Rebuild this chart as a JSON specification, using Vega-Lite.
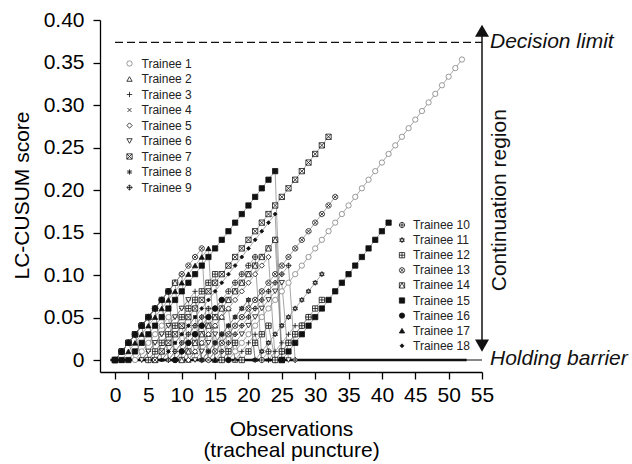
{
"$schema": "https://vega.github.io/schema/vega-lite/v6.json",
"width": 382, "height": 352,
"autosize": {"type": "none"},
"padding": {"left": 100, "top": 20, "right": 150, "bottom": 92},
"background": "white",
"config": {
 "view": {"stroke": null},
 "font": "Liberation Sans",
 "axis": {"domainColor": "#000", "domainWidth": 1.3, "tickColor": "#000", "tickWidth": 1.3, "tickSize": 7, "labelFont": "Liberation Sans", "labelFontSize": 21, "labelColor": "#000", "titleFont": "Liberation Sans", "titleFontSize": 21, "titleFontWeight": "normal", "titleColor": "#000", "grid": false, "labelOverlap": false, "labelFlush": false},
 "axisX": {"values": [0,5,10,15,20,25,30,35,40,45,50,55], "labelPadding": 5, "titleX": 191, "titleY": 63, "titleBaseline": "alphabetic", "titleLineHeight": 21, "titleAlign": "center", "titleAnchor": null},
 "axisY": {"values": [0,0.05,0.1,0.15,0.2,0.25,0.3,0.35,0.4], "labelPadding": 9, "titleX": -78, "titleY": 175, "titleAngle": -90, "titleAlign": "center", "titleBaseline": "middle", "titleAnchor": null}
},
"datasets": {"cusum": [
{"s":1,"o":0,"v":0},{"s":1,"o":1,"v":0.0101},{"s":1,"o":2,"v":0.0202},{"s":1,"o":3,"v":0},{"s":1,"o":4,"v":0.0101},{"s":1,"o":5,"v":0.0202},{"s":1,"o":6,"v":0.0303},{"s":1,"o":7,"v":0.0404},{"s":1,"o":8,"v":0.0505},{"s":1,"o":9,"v":0},{"s":1,"o":10,"v":0.0101},{"s":1,"o":11,"v":0.0202},{"s":1,"o":12,"v":0.0303},{"s":1,"o":13,"v":0},{"s":1,"o":14,"v":0.0101},{"s":1,"o":15,"v":0.0202},{"s":1,"o":16,"v":0.0303},{"s":1,"o":17,"v":0},{"s":1,"o":18,"v":0.0101},{"s":1,"o":19,"v":0.0202},{"s":1,"o":20,"v":0.0303},{"s":1,"o":21,"v":0.0404},{"s":1,"o":22,"v":0.0505},{"s":1,"o":23,"v":0.0606},{"s":1,"o":24,"v":0.0707},{"s":1,"o":25,"v":0.0808},{"s":1,"o":26,"v":0.0909},{"s":1,"o":27,"v":0.101},{"s":1,"o":28,"v":0.1111},{"s":1,"o":29,"v":0.1212},{"s":1,"o":30,"v":0.1313},{"s":1,"o":31,"v":0.1414},{"s":1,"o":32,"v":0.1515},{"s":1,"o":33,"v":0.1616},{"s":1,"o":34,"v":0.1717},{"s":1,"o":35,"v":0.1818},{"s":1,"o":36,"v":0.1919},{"s":1,"o":37,"v":0.202},{"s":1,"o":38,"v":0.2121},{"s":1,"o":39,"v":0.2222},{"s":1,"o":40,"v":0.2323},{"s":1,"o":41,"v":0.2424},{"s":1,"o":42,"v":0.2525},{"s":1,"o":43,"v":0.2626},{"s":1,"o":44,"v":0.2727},{"s":1,"o":45,"v":0.2828},{"s":1,"o":46,"v":0.2929},{"s":1,"o":47,"v":0.303},{"s":1,"o":48,"v":0.3131},{"s":1,"o":49,"v":0.3232},{"s":1,"o":50,"v":0.3333},{"s":1,"o":51,"v":0.3434},{"s":1,"o":52,"v":0.3535},
{"s":2,"o":0,"v":0},{"s":2,"o":1,"v":0.0101},{"s":2,"o":2,"v":0.0202},{"s":2,"o":3,"v":0.0303},{"s":2,"o":4,"v":0.0404},{"s":2,"o":5,"v":0.0505},{"s":2,"o":6,"v":0},{"s":2,"o":7,"v":0.0101},{"s":2,"o":8,"v":0.0202},{"s":2,"o":9,"v":0.0303},{"s":2,"o":10,"v":0.0404},{"s":2,"o":11,"v":0},{"s":2,"o":12,"v":0.0101},{"s":2,"o":13,"v":0.0202},{"s":2,"o":14,"v":0.0303},{"s":2,"o":15,"v":0.0404},{"s":2,"o":16,"v":0.0505},{"s":2,"o":17,"v":0.0606},{"s":2,"o":18,"v":0},
{"s":3,"o":0,"v":0},{"s":3,"o":1,"v":0.0101},{"s":3,"o":2,"v":0.0202},{"s":3,"o":3,"v":0.0303},{"s":3,"o":4,"v":0},{"s":3,"o":5,"v":0.0101},{"s":3,"o":6,"v":0.0202},{"s":3,"o":7,"v":0.0303},{"s":3,"o":8,"v":0.0404},{"s":3,"o":9,"v":0.0505},{"s":3,"o":10,"v":0.0606},{"s":3,"o":11,"v":0.0707},{"s":3,"o":12,"v":0.0808},{"s":3,"o":13,"v":0},{"s":3,"o":14,"v":0.0101},{"s":3,"o":15,"v":0.0202},{"s":3,"o":16,"v":0.0303},{"s":3,"o":17,"v":0.0404},{"s":3,"o":18,"v":0},{"s":3,"o":19,"v":0.0101},{"s":3,"o":20,"v":0.0202},{"s":3,"o":21,"v":0.0303},{"s":3,"o":22,"v":0},{"s":3,"o":23,"v":0},{"s":3,"o":24,"v":0.0101},{"s":3,"o":25,"v":0.0202},{"s":3,"o":26,"v":0.0303},{"s":3,"o":27,"v":0.0404},
{"s":4,"o":0,"v":0},{"s":4,"o":1,"v":0.0101},{"s":4,"o":2,"v":0.0202},{"s":4,"o":3,"v":0.0303},{"s":4,"o":4,"v":0.0404},{"s":4,"o":5,"v":0.0505},{"s":4,"o":6,"v":0.0606},{"s":4,"o":7,"v":0},{"s":4,"o":8,"v":0.0101},{"s":4,"o":9,"v":0.0202},{"s":4,"o":10,"v":0.0303},{"s":4,"o":11,"v":0.0404},{"s":4,"o":12,"v":0.0505},{"s":4,"o":13,"v":0},{"s":4,"o":14,"v":0.0101},{"s":4,"o":15,"v":0.0202},{"s":4,"o":16,"v":0.0303},{"s":4,"o":17,"v":0.0404},{"s":4,"o":18,"v":0.0505},{"s":4,"o":19,"v":0.0606},{"s":4,"o":20,"v":0.0707},{"s":4,"o":21,"v":0},
{"s":5,"o":0,"v":0},{"s":5,"o":1,"v":0.0101},{"s":5,"o":2,"v":0.0202},{"s":5,"o":3,"v":0.0303},{"s":5,"o":4,"v":0.0404},{"s":5,"o":5,"v":0.0505},{"s":5,"o":6,"v":0.0606},{"s":5,"o":7,"v":0.0707},{"s":5,"o":8,"v":0.0808},{"s":5,"o":9,"v":0.0909},{"s":5,"o":10,"v":0.101},{"s":5,"o":11,"v":0},{"s":5,"o":12,"v":0.0101},{"s":5,"o":13,"v":0.0202},{"s":5,"o":14,"v":0.0303},{"s":5,"o":15,"v":0.0404},{"s":5,"o":16,"v":0.0505},{"s":5,"o":17,"v":0.0606},{"s":5,"o":18,"v":0.0707},{"s":5,"o":19,"v":0.0808},{"s":5,"o":20,"v":0.0909},{"s":5,"o":21,"v":0.101},{"s":5,"o":22,"v":0.1111},{"s":5,"o":23,"v":0.1212},{"s":5,"o":24,"v":0},
{"s":6,"o":0,"v":0},{"s":6,"o":1,"v":0.0101},{"s":6,"o":2,"v":0.0202},{"s":6,"o":3,"v":0.0303},{"s":6,"o":4,"v":0},{"s":6,"o":5,"v":0.0101},{"s":6,"o":6,"v":0.0202},{"s":6,"o":7,"v":0.0303},{"s":6,"o":8,"v":0.0404},{"s":6,"o":9,"v":0.0505},{"s":6,"o":10,"v":0.0606},{"s":6,"o":11,"v":0.0707},{"s":6,"o":12,"v":0},{"s":6,"o":13,"v":0.0101},{"s":6,"o":14,"v":0.0202},{"s":6,"o":15,"v":0.0303},{"s":6,"o":16,"v":0},{"s":6,"o":17,"v":0.0101},{"s":6,"o":18,"v":0.0202},{"s":6,"o":19,"v":0.0303},{"s":6,"o":20,"v":0.0404},{"s":6,"o":21,"v":0.0505},{"s":6,"o":22,"v":0.0606},{"s":6,"o":23,"v":0.0707},{"s":6,"o":24,"v":0.0808},{"s":6,"o":25,"v":0.0909},{"s":6,"o":26,"v":0},
{"s":7,"o":0,"v":0},{"s":7,"o":1,"v":0.0101},{"s":7,"o":2,"v":0.0202},{"s":7,"o":3,"v":0.0303},{"s":7,"o":4,"v":0.0404},{"s":7,"o":5,"v":0.0505},{"s":7,"o":6,"v":0},{"s":7,"o":7,"v":0.0101},{"s":7,"o":8,"v":0.0202},{"s":7,"o":9,"v":0.0303},{"s":7,"o":10,"v":0.0404},{"s":7,"o":11,"v":0.0505},{"s":7,"o":12,"v":0.0606},{"s":7,"o":13,"v":0.0707},{"s":7,"o":14,"v":0.0808},{"s":7,"o":15,"v":0.0909},{"s":7,"o":16,"v":0.101},{"s":7,"o":17,"v":0.1111},{"s":7,"o":18,"v":0.1212},{"s":7,"o":19,"v":0.1313},{"s":7,"o":20,"v":0.1414},{"s":7,"o":21,"v":0.1515},{"s":7,"o":22,"v":0.1616},{"s":7,"o":23,"v":0.1717},{"s":7,"o":24,"v":0.1818},{"s":7,"o":25,"v":0.1919},{"s":7,"o":26,"v":0.202},{"s":7,"o":27,"v":0.2121},{"s":7,"o":28,"v":0.2222},{"s":7,"o":29,"v":0.2323},{"s":7,"o":30,"v":0.2424},{"s":7,"o":31,"v":0.2525},{"s":7,"o":32,"v":0.2626},
{"s":8,"o":0,"v":0},{"s":8,"o":1,"v":0.0101},{"s":8,"o":2,"v":0.0202},{"s":8,"o":3,"v":0.0303},{"s":8,"o":4,"v":0.0404},{"s":8,"o":5,"v":0.0505},{"s":8,"o":6,"v":0.0606},{"s":8,"o":7,"v":0.0707},{"s":8,"o":8,"v":0},{"s":8,"o":9,"v":0.0101},{"s":8,"o":10,"v":0.0202},{"s":8,"o":11,"v":0.0303},{"s":8,"o":12,"v":0.0404},{"s":8,"o":13,"v":0.0505},{"s":8,"o":14,"v":0},{"s":8,"o":15,"v":0.0101},{"s":8,"o":16,"v":0.0202},{"s":8,"o":17,"v":0.0303},{"s":8,"o":18,"v":0.0404},{"s":8,"o":19,"v":0.0505},{"s":8,"o":20,"v":0.0606},{"s":8,"o":21,"v":0.0707},{"s":8,"o":22,"v":0.0808},{"s":8,"o":23,"v":0},
{"s":9,"o":0,"v":0},{"s":9,"o":1,"v":0.0101},{"s":9,"o":2,"v":0.0202},{"s":9,"o":3,"v":0.0303},{"s":9,"o":4,"v":0.0404},{"s":9,"o":5,"v":0.0505},{"s":9,"o":6,"v":0.0606},{"s":9,"o":7,"v":0.0707},{"s":9,"o":8,"v":0},{"s":9,"o":9,"v":0.0101},{"s":9,"o":10,"v":0.0202},{"s":9,"o":11,"v":0.0303},{"s":9,"o":12,"v":0.0404},{"s":9,"o":13,"v":0.0505},{"s":9,"o":14,"v":0.0606},{"s":9,"o":15,"v":0},{"s":9,"o":16,"v":0.0101},{"s":9,"o":17,"v":0.0202},{"s":9,"o":18,"v":0.0303},{"s":9,"o":19,"v":0.0404},{"s":9,"o":20,"v":0.0505},{"s":9,"o":21,"v":0.0606},{"s":9,"o":22,"v":0.0707},{"s":9,"o":23,"v":0.0808},{"s":9,"o":24,"v":0.0909},{"s":9,"o":25,"v":0.101},{"s":9,"o":26,"v":0.1111},{"s":9,"o":27,"v":0},
{"s":10,"o":0,"v":0},{"s":10,"o":1,"v":0.0101},{"s":10,"o":2,"v":0.0202},{"s":10,"o":3,"v":0.0303},{"s":10,"o":4,"v":0.0404},{"s":10,"o":5,"v":0.0505},{"s":10,"o":6,"v":0.0606},{"s":10,"o":7,"v":0.0707},{"s":10,"o":8,"v":0.0808},{"s":10,"o":9,"v":0},{"s":10,"o":10,"v":0.0101},{"s":10,"o":11,"v":0.0202},{"s":10,"o":12,"v":0.0303},{"s":10,"o":13,"v":0.0404},{"s":10,"o":14,"v":0.0505},{"s":10,"o":15,"v":0.0606},{"s":10,"o":16,"v":0.0707},{"s":10,"o":17,"v":0.0808},{"s":10,"o":18,"v":0.0909},{"s":10,"o":19,"v":0.101},{"s":10,"o":20,"v":0.1111},{"s":10,"o":21,"v":0.1212},{"s":10,"o":22,"v":0},{"s":10,"o":23,"v":0.0101},{"s":10,"o":24,"v":0},{"s":10,"o":25,"v":0.0101},{"s":10,"o":26,"v":0.0202},{"s":10,"o":27,"v":0.0303},{"s":10,"o":28,"v":0.0404},{"s":10,"o":29,"v":0.0505},
{"s":11,"o":0,"v":0},{"s":11,"o":1,"v":0.0101},{"s":11,"o":2,"v":0.0202},{"s":11,"o":3,"v":0.0303},{"s":11,"o":4,"v":0.0404},{"s":11,"o":5,"v":0},{"s":11,"o":6,"v":0.0101},{"s":11,"o":7,"v":0.0202},{"s":11,"o":8,"v":0.0303},{"s":11,"o":9,"v":0.0404},{"s":11,"o":10,"v":0.0505},{"s":11,"o":11,"v":0.0606},{"s":11,"o":12,"v":0.0707},{"s":11,"o":13,"v":0},{"s":11,"o":14,"v":0.0101},{"s":11,"o":15,"v":0.0202},{"s":11,"o":16,"v":0.0303},{"s":11,"o":17,"v":0.0404},{"s":11,"o":18,"v":0.0505},{"s":11,"o":19,"v":0.0606},{"s":11,"o":20,"v":0.0707},{"s":11,"o":21,"v":0},{"s":11,"o":22,"v":0.0101},{"s":11,"o":23,"v":0.0202},{"s":11,"o":24,"v":0.0303},{"s":11,"o":25,"v":0.0404},{"s":11,"o":26,"v":0.0505},{"s":11,"o":27,"v":0.0606},{"s":11,"o":28,"v":0.0707},{"s":11,"o":29,"v":0.0808},{"s":11,"o":30,"v":0.0909},{"s":11,"o":31,"v":0.101},
{"s":12,"o":0,"v":0},{"s":12,"o":1,"v":0.0101},{"s":12,"o":2,"v":0.0202},{"s":12,"o":3,"v":0.0303},{"s":12,"o":4,"v":0.0404},{"s":12,"o":5,"v":0},{"s":12,"o":6,"v":0.0101},{"s":12,"o":7,"v":0.0202},{"s":12,"o":8,"v":0.0303},{"s":12,"o":9,"v":0.0404},{"s":12,"o":10,"v":0.0505},{"s":12,"o":11,"v":0.0606},{"s":12,"o":12,"v":0.0707},{"s":12,"o":13,"v":0.0808},{"s":12,"o":14,"v":0.0909},{"s":12,"o":15,"v":0.101},{"s":12,"o":16,"v":0},{"s":12,"o":17,"v":0.0101},{"s":12,"o":18,"v":0.0202},{"s":12,"o":19,"v":0},{"s":12,"o":20,"v":0.0101},{"s":12,"o":21,"v":0.0202},{"s":12,"o":22,"v":0.0303},{"s":12,"o":23,"v":0.0404},{"s":12,"o":24,"v":0},{"s":12,"o":25,"v":0.0101},{"s":12,"o":26,"v":0.0202},{"s":12,"o":27,"v":0.0303},{"s":12,"o":28,"v":0.0404},{"s":12,"o":29,"v":0.0505},{"s":12,"o":30,"v":0.0606},{"s":12,"o":31,"v":0.0707},
{"s":13,"o":0,"v":0},{"s":13,"o":1,"v":0.0101},{"s":13,"o":2,"v":0.0202},{"s":13,"o":3,"v":0.0303},{"s":13,"o":4,"v":0.0404},{"s":13,"o":5,"v":0.0505},{"s":13,"o":6,"v":0.0606},{"s":13,"o":7,"v":0.0707},{"s":13,"o":8,"v":0.0808},{"s":13,"o":9,"v":0.0909},{"s":13,"o":10,"v":0.101},{"s":13,"o":11,"v":0.1111},{"s":13,"o":12,"v":0.1212},{"s":13,"o":13,"v":0.1313},{"s":13,"o":14,"v":0},{"s":13,"o":15,"v":0.0101},{"s":13,"o":16,"v":0.0202},{"s":13,"o":17,"v":0.0303},{"s":13,"o":18,"v":0.0404},{"s":13,"o":19,"v":0.0505},{"s":13,"o":20,"v":0.0606},{"s":13,"o":21,"v":0.0707},{"s":13,"o":22,"v":0.0808},{"s":13,"o":23,"v":0.0909},{"s":13,"o":24,"v":0.101},{"s":13,"o":25,"v":0.1111},{"s":13,"o":26,"v":0.1212},{"s":13,"o":27,"v":0.1313},{"s":13,"o":28,"v":0.1414},{"s":13,"o":29,"v":0.1515},{"s":13,"o":30,"v":0.1616},{"s":13,"o":31,"v":0.1717},{"s":13,"o":32,"v":0.1818},{"s":13,"o":33,"v":0.1919},
{"s":14,"o":0,"v":0},{"s":14,"o":1,"v":0.0101},{"s":14,"o":2,"v":0.0202},{"s":14,"o":3,"v":0.0303},{"s":14,"o":4,"v":0.0404},{"s":14,"o":5,"v":0.0505},{"s":14,"o":6,"v":0.0606},{"s":14,"o":7,"v":0.0707},{"s":14,"o":8,"v":0.0808},{"s":14,"o":9,"v":0.0909},{"s":14,"o":10,"v":0},{"s":14,"o":11,"v":0.0101},{"s":14,"o":12,"v":0.0202},{"s":14,"o":13,"v":0.0303},{"s":14,"o":14,"v":0.0404},{"s":14,"o":15,"v":0.0505},{"s":14,"o":16,"v":0.0606},{"s":14,"o":17,"v":0.0707},{"s":14,"o":18,"v":0.0808},{"s":14,"o":19,"v":0.0909},{"s":14,"o":20,"v":0.101},{"s":14,"o":21,"v":0.1111},{"s":14,"o":22,"v":0.1212},{"s":14,"o":23,"v":0.1313},{"s":14,"o":24,"v":0.1414},{"s":14,"o":25,"v":0},
{"s":15,"o":0,"v":0},{"s":15,"o":1,"v":0},{"s":15,"o":2,"v":0},{"s":15,"o":3,"v":0.0101},{"s":15,"o":4,"v":0.0202},{"s":15,"o":5,"v":0.0303},{"s":15,"o":6,"v":0.0404},{"s":15,"o":7,"v":0.0505},{"s":15,"o":8,"v":0.0606},{"s":15,"o":9,"v":0.0707},{"s":15,"o":10,"v":0.0808},{"s":15,"o":11,"v":0.0909},{"s":15,"o":12,"v":0.101},{"s":15,"o":13,"v":0.1111},{"s":15,"o":14,"v":0.1212},{"s":15,"o":15,"v":0.1313},{"s":15,"o":16,"v":0.1414},{"s":15,"o":17,"v":0.1515},{"s":15,"o":18,"v":0.1616},{"s":15,"o":19,"v":0.1717},{"s":15,"o":20,"v":0.1818},{"s":15,"o":21,"v":0.1919},{"s":15,"o":22,"v":0.202},{"s":15,"o":23,"v":0.2121},{"s":15,"o":24,"v":0.2222},{"s":15,"o":25,"v":0},{"s":15,"o":26,"v":0.0101},{"s":15,"o":27,"v":0.0202},{"s":15,"o":28,"v":0.0303},{"s":15,"o":29,"v":0.0404},{"s":15,"o":30,"v":0.0505},{"s":15,"o":31,"v":0.0606},{"s":15,"o":32,"v":0.0707},{"s":15,"o":33,"v":0.0808},{"s":15,"o":34,"v":0.0909},{"s":15,"o":35,"v":0.101},{"s":15,"o":36,"v":0.1111},{"s":15,"o":37,"v":0.1212},{"s":15,"o":38,"v":0.1313},{"s":15,"o":39,"v":0.1414},{"s":15,"o":40,"v":0.1515},{"s":15,"o":41,"v":0.1616},
{"s":16,"o":0,"v":0},{"s":16,"o":1,"v":0.0101},{"s":16,"o":2,"v":0.0202},{"s":16,"o":3,"v":0.0303},{"s":16,"o":4,"v":0.0404},{"s":16,"o":5,"v":0.0505},{"s":16,"o":6,"v":0.0606},{"s":16,"o":7,"v":0.0707},{"s":16,"o":8,"v":0.0808},{"s":16,"o":9,"v":0},{"s":16,"o":10,"v":0.0101},{"s":16,"o":11,"v":0.0202},{"s":16,"o":12,"v":0.0303},{"s":16,"o":13,"v":0.0404},{"s":16,"o":14,"v":0.0505},{"s":16,"o":15,"v":0.0606},{"s":16,"o":16,"v":0.0707},{"s":16,"o":17,"v":0},
{"s":17,"o":0,"v":0},{"s":17,"o":1,"v":0},{"s":17,"o":2,"v":0.0101},{"s":17,"o":3,"v":0.0202},{"s":17,"o":4,"v":0.0303},{"s":17,"o":5,"v":0.0404},{"s":17,"o":6,"v":0.0505},{"s":17,"o":7,"v":0.0606},{"s":17,"o":8,"v":0.0707},{"s":17,"o":9,"v":0.0808},{"s":17,"o":10,"v":0.0909},{"s":17,"o":11,"v":0.101},{"s":17,"o":12,"v":0.1111},{"s":17,"o":13,"v":0.1212},{"s":17,"o":14,"v":0.1313},{"s":17,"o":15,"v":0},
{"s":18,"o":0,"v":0},{"s":18,"o":1,"v":0.0101},{"s":18,"o":2,"v":0.0202},{"s":18,"o":3,"v":0.0303},{"s":18,"o":4,"v":0.0404},{"s":18,"o":5,"v":0.0505},{"s":18,"o":6,"v":0.0606},{"s":18,"o":7,"v":0},{"s":18,"o":8,"v":0.0101},{"s":18,"o":9,"v":0.0202},{"s":18,"o":10,"v":0.0303},{"s":18,"o":11,"v":0.0404},{"s":18,"o":12,"v":0.0505},{"s":18,"o":13,"v":0.0606},{"s":18,"o":14,"v":0.0707},{"s":18,"o":15,"v":0.0808},{"s":18,"o":16,"v":0.0909},{"s":18,"o":17,"v":0.101},{"s":18,"o":18,"v":0.1111},{"s":18,"o":19,"v":0.1212},{"s":18,"o":20,"v":0.1313},{"s":18,"o":21,"v":0.1414},{"s":18,"o":22,"v":0.1515},{"s":18,"o":23,"v":0.1616},{"s":18,"o":24,"v":0.1717},{"s":18,"o":25,"v":0}
], "one": [{}]},
"layer": [
 {"data": {"name": "cusum"}, "mark": {"type": "line", "stroke": "#808080", "strokeWidth": 0.7},
  "encoding": {
   "x": {"field": "o", "type": "quantitative", "scale": {"domain": [-2.25, 55], "nice": false, "zero": false}, "title": ["Observations", "(tracheal puncture)"]},
   "y": {"field": "v", "type": "quantitative", "scale": {"domain": [-0.0141, 0.4], "nice": false, "zero": false}, "title": "LC-CUSUM score",
    "axis": {"labelExpr": "datum.value == 0 ? '0' : format(datum.value, '.2f')"}},
   "detail": {"field": "s", "type": "nominal"}, "order": {"field": "o", "type": "quantitative"}}},
 {"data": {"name": "one"}, "mark": {"type": "rule", "strokeDash": [8, 4], "strokeWidth": 1.3, "color": "#111"},
  "encoding": {"x": {"datum": 0, "type": "quantitative"}, "x2": {"datum": 55}, "y": {"datum": 0.3737, "type": "quantitative"}}},
 {"data": {"name": "one"}, "mark": {"type": "rule", "strokeWidth": 1, "color": "#111"},
  "encoding": {"x": {"datum": 0, "type": "quantitative"}, "x2": {"datum": 55}, "y": {"datum": 0, "type": "quantitative"}}},
 {"data": {"name": "one"}, "mark": {"type": "rule", "strokeWidth": 2.6, "color": "#111"},
  "encoding": {"x": {"datum": -0.7, "type": "quantitative"}, "x2": {"datum": 52.7}, "y": {"datum": 0, "type": "quantitative"}}},
 {"data": {"name": "cusum"}, "transform": [{"filter": "datum.s <= 9"}],
  "mark": {"type": "point", "filled": true, "opacity": 1, "size": 28, "strokeWidth": 0.8},
  "encoding": {
   "x": {"field": "o", "type": "quantitative", "title": ["Observations", "(tracheal puncture)"]},
   "y": {"field": "v", "type": "quantitative", "title": "LC-CUSUM score"},
   "shape": {"field": "s", "type": "nominal", "scale": {"domain": [1,2,3,4,5,6,7,8,9], "range": ["circle", "triangle-up", "M-1,0H1M0,-1V1", "M-0.75,-0.75L0.75,0.75M0.75,-0.75L-0.75,0.75", "diamond", "triangle-down", "M-1,-1H1V1H-1ZM-1,-1L1,1M1,-1L-1,1", "M-1,0H1M0,-1V1M-0.75,-0.75L0.75,0.75M0.75,-0.75L-0.75,0.75", "M0,-1L1,0L0,1L-1,0ZM-1,0H1M0,-1V1"]},
    "legend": {"title": null, "orient": "none", "legendX": 23.5, "legendY": 37.5, "labelExpr": "'Trainee ' + datum.label", "labelFontSize": 12, "labelFont": "Liberation Sans", "labelColor": "#222", "symbolSize": 28, "symbolStrokeWidth": 0.8, "rowPadding": 3.5, "labelOffset": 6, "padding": 0}},
   "fill": {"field": "s", "type": "nominal", "scale": {"domain": [1,2,3,4,5,6,7,8,9], "range": ["white","white","white","white","white","white","white","white","white"]},
    "legend": {"title": null, "orient": "none", "legendX": 23.5, "legendY": 37.5, "labelExpr": "'Trainee ' + datum.label", "labelFontSize": 12, "labelFont": "Liberation Sans", "labelColor": "#222", "symbolSize": 28, "symbolStrokeWidth": 0.8, "rowPadding": 3.5, "labelOffset": 6, "padding": 0}},
   "stroke": {"field": "s", "type": "nominal", "scale": {"domain": [1,2,3,4,5,6,7,8,9], "range": ["#808080","#111","#111","#111","#111","#111","#111","#111","#111"]},
    "legend": {"title": null, "orient": "none", "legendX": 23.5, "legendY": 37.5, "labelExpr": "'Trainee ' + datum.label", "labelFontSize": 12, "labelFont": "Liberation Sans", "labelColor": "#222", "symbolSize": 28, "symbolStrokeWidth": 0.8, "rowPadding": 3.5, "labelOffset": 6, "padding": 0}}
  }},
 {"data": {"name": "cusum"}, "transform": [{"filter": "datum.s >= 10"}],
  "mark": {"type": "point", "filled": true, "opacity": 1, "size": 28, "strokeWidth": 0.8},
  "encoding": {
   "x": {"field": "o", "type": "quantitative", "title": ["Observations", "(tracheal puncture)"]},
   "y": {"field": "v", "type": "quantitative", "title": "LC-CUSUM score"},
   "shape": {"field": "s", "type": "nominal", "scale": {"domain": [10,11,12,13,14,15,16,17,18], "range": ["M-1,0A1,1 0 1,0 1,0A1,1 0 1,0 -1,0ZM-1,0H1M0,-1V1", "M0,-1L0.87,0.5L-0.87,0.5ZM0,1L0.87,-0.5L-0.87,-0.5Z", "M-1,-1H1V1H-1ZM-1,0H1M0,-1V1", "M-1,0A1,1 0 1,0 1,0A1,1 0 1,0 -1,0ZM-0.7,-0.7L0.7,0.7M0.7,-0.7L-0.7,0.7", "M-1,-1H1V1H-1ZM-1,1L0,-1L1,1", "square", "circle", "triangle-up", "M0,-0.75L0.75,0L0,0.75L-0.75,0Z"]},
    "legend": {"title": null, "orient": "none", "legendX": 296, "legendY": 199, "labelExpr": "'Trainee ' + datum.label", "labelFontSize": 12, "labelFont": "Liberation Sans", "labelColor": "#222", "symbolSize": 28, "symbolStrokeWidth": 0.8, "rowPadding": 3.1, "labelOffset": 5, "padding": 0}},
   "fill": {"field": "s", "type": "nominal", "scale": {"domain": [10,11,12,13,14,15,16,17,18], "range": ["white","white","white","white","white","#111","#111","#111","#111"]},
    "legend": {"title": null, "orient": "none", "legendX": 296, "legendY": 199, "labelExpr": "'Trainee ' + datum.label", "labelFontSize": 12, "labelFont": "Liberation Sans", "labelColor": "#222", "symbolSize": 28, "symbolStrokeWidth": 0.8, "rowPadding": 3.1, "labelOffset": 5, "padding": 0}},
   "stroke": {"field": "s", "type": "nominal", "scale": {"domain": [10,11,12,13,14,15,16,17,18], "range": ["#111","#111","#111","#111","#111","#111","#111","#111","#111"]},
    "legend": {"title": null, "orient": "none", "legendX": 296, "legendY": 199, "labelExpr": "'Trainee ' + datum.label", "labelFontSize": 12, "labelFont": "Liberation Sans", "labelColor": "#222", "symbolSize": 28, "symbolStrokeWidth": 0.8, "rowPadding": 3.1, "labelOffset": 5, "padding": 0}}
  }},
 {"data": {"name": "one"}, "mark": {"type": "rule", "strokeWidth": 1.5, "color": "#111"},
  "encoding": {"x": {"datum": 55, "type": "quantitative"}, "y": {"datum": 0.02, "type": "quantitative"}, "y2": {"datum": 0.385}}},
 {"data": {"name": "one"}, "mark": {"type": "point", "shape": "triangle-up", "size": 196, "filled": true, "color": "#111", "opacity": 1},
  "encoding": {"x": {"datum": 55, "type": "quantitative"}, "y": {"datum": 0.3873, "type": "quantitative"}}},
 {"data": {"name": "one"}, "mark": {"type": "point", "shape": "triangle-down", "size": 196, "filled": true, "color": "#111", "opacity": 1},
  "encoding": {"x": {"datum": 55, "type": "quantitative"}, "y": {"datum": 0.017, "type": "quantitative"}}},
 {"data": {"name": "one"}, "mark": {"type": "text", "text": "Decision limit", "fontStyle": "italic", "fontSize": 21, "font": "Liberation Sans", "align": "left", "baseline": "middle", "dx": 8, "color": "#111"},
  "encoding": {"x": {"datum": 55, "type": "quantitative"}, "y": {"datum": 0.3737, "type": "quantitative"}}},
 {"data": {"name": "one"}, "mark": {"type": "text", "text": "Holding barrier", "fontStyle": "italic", "fontSize": 21, "font": "Liberation Sans", "align": "left", "baseline": "middle", "dx": 8, "color": "#111"},
  "encoding": {"x": {"datum": 55, "type": "quantitative"}, "y": {"datum": 0.001, "type": "quantitative"}}},
 {"data": {"name": "one"}, "mark": {"type": "text", "text": "Continuation region", "fontSize": 21, "font": "Liberation Sans", "align": "center", "baseline": "middle", "angle": 270, "color": "#111"},
  "encoding": {"x": {"datum": 57.7, "type": "quantitative"}, "y": {"datum": 0.188, "type": "quantitative"}}}
],
"resolve": {"scale": {"shape": "independent", "fill": "independent", "stroke": "independent"}}
}
